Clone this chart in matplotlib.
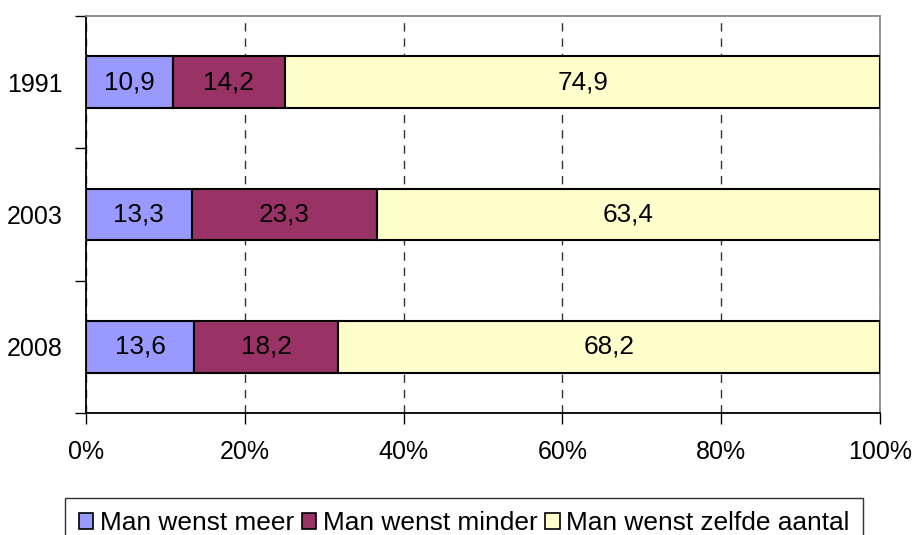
import matplotlib
matplotlib.use("Agg")
import matplotlib.pyplot as plt
import numpy as np

plt.rcParams['font.family'] = ['Liberation Sans', 'DejaVu Sans']

years = ["1991", "2003", "2008"]
series_names = ["Man wenst meer", "Man wenst minder", "Man wenst zelfde aantal"]
meer = [10.9, 13.3, 13.6]
minder = [14.2, 23.3, 18.2]
zelfde = [74.9, 63.4, 68.2]
colors = ["#9999ff", "#993366", "#ffffcc"]
xticks = [0, 20, 40, 60, 80, 100]
xticklabels = ["0%", "20%", "40%", "60%", "80%", "100%"]

fig = plt.figure(figsize=(9.13, 5.35), dpi=100)
ax = fig.add_axes([86/913, 1-413/535, (880-86)/913, (413-16)/535])

y = np.arange(len(years))
left = np.zeros(len(years))
fs_tick = 18
fs_bar = 18.8
fs_leg = 18.9
for vals, col, name in zip([meer, minder, zelfde], colors, series_names):
    ax.barh(y, vals, left=left, height=0.39, color=col, edgecolor='black',
            linewidth=1.5, label=name, zorder=3)
    for yi, l, v in zip(y, left, vals):
        ax.text(l + v/2, yi, f"{v:.1f}".replace('.', ','), ha='center', va='center',
                fontsize=fs_bar, zorder=4)
    left = left + np.array(vals)

ax.set_xlim(0, 100)
ax.set_ylim(2.5, -0.5)
ax.set_xticks(xticks)
ax.set_xticklabels(xticklabels, fontsize=fs_tick)
ax.set_yticks([-0.5, 0.5, 1.5, 2.5])
ax.set_yticklabels([])
ax.set_yticks(y, minor=True)
ax.set_yticklabels(years, minor=True, fontsize=fs_tick)
ax.tick_params(axis='y', which='minor', length=0, pad=16.5)
ax.tick_params(axis='y', which='major', length=8, width=1, color='black')
ax.tick_params(axis='x', length=8, width=1, pad=11.5)

ax.grid(axis='x', linestyle=(0, (6, 5)), color='#333333', linewidth=1, zorder=0)
ax.spines['left'].set_color('black')
ax.spines['bottom'].set_color('black')
ax.spines['top'].set_color('#888888')
ax.spines['right'].set_color('#888888')
for s in ax.spines.values():
    s.set_linewidth(1.3)

leg = fig.legend(loc='upper center', bbox_to_anchor=(464/913, 1-498/535), ncol=3,
                 fontsize=fs_leg, frameon=True, fancybox=False, edgecolor='black',
                 handlelength=0.55, handleheight=0.55, handletextpad=0.25,
                 columnspacing=0.3, borderpad=0.5, borderaxespad=0)
leg.get_frame().set_linewidth(1.0)
for h in leg.legend_handles:
    h.set_linewidth(1.2)

fig.savefig("out.png", dpi=100)
